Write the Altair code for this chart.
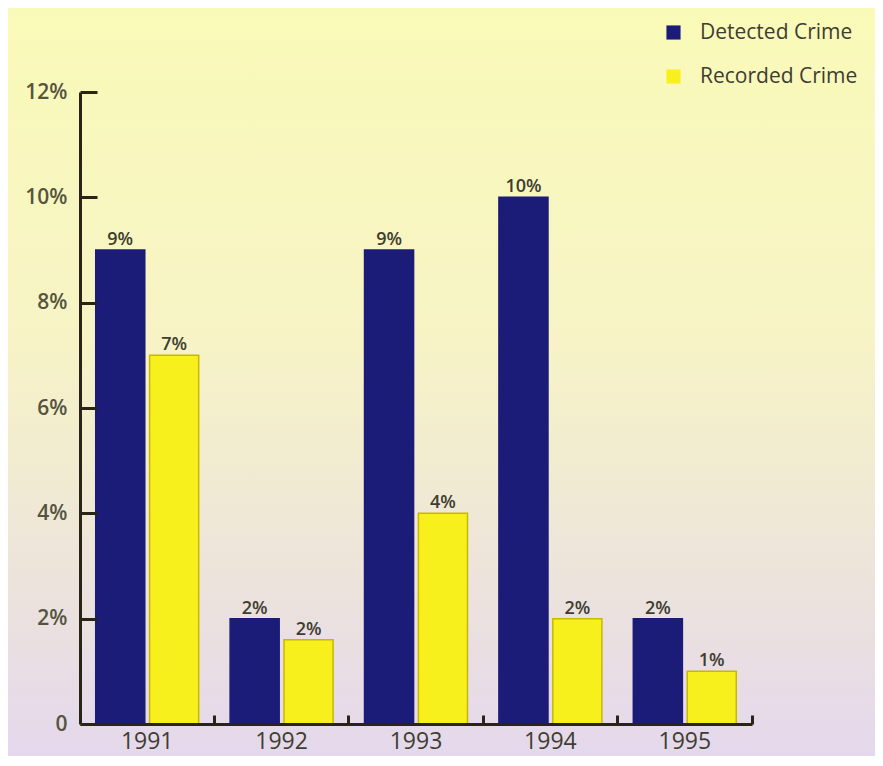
import altair as alt
import pandas as pd

years = ["1991", "1992", "1993", "1994", "1995"]
detected = [9, 2, 9, 10, 2]
recorded = [7, 1.6, 4, 2, 1]
detected_labels = ["9%", "2%", "9%", "10%", "2%"]
recorded_labels = ["7%", "2%", "4%", "2%", "1%"]
series_names = ["Detected Crime", "Recorded Crime"]
series_colors = ["#1b1b78", "#f8f01c"]
series_strokes = ["#1b1b78", "#c9b800"]
y_ticks = [0, 2, 4, 6, 8, 10, 12]

rows = []
for i, y in enumerate(years):
    rows.append({"year": y, "series": series_names[0], "value": detected[i], "label": detected_labels[i]})
    rows.append({"year": y, "series": series_names[1], "value": recorded[i], "label": recorded_labels[i]})
df = pd.DataFrame(rows)

W, H = 672, 632
PL, PT, PR, PB = 72, 84, 123, 32
FONT = "Open Sans"
TXT = "#3e3d30"
P_IN, P_OUT = 0.234, 0.117
# tick between groups: band start + (bandwidth + half inner padding)
BAND_POS = (1 - P_IN + P_IN / 2) / (1 - P_IN)

x_scale = alt.Scale(domain=years, paddingInner=P_IN, paddingOuter=P_OUT)
xo_scale = alt.Scale(domain=series_names, paddingInner=0.09)
y_scale = alt.Scale(domain=[0, 12], nice=False)
color_scale = alt.Scale(domain=series_names, range=series_colors)
stroke_scale = alt.Scale(domain=series_names, range=series_strokes)

bg = alt.Chart(pd.DataFrame({"a": [0]})).mark_rect(
    color=alt.Gradient(
        gradient="linear",
        stops=[
            alt.GradientStop(color="#fafab8", offset=0),
            alt.GradientStop(color="#f7f3c6", offset=0.45),
            alt.GradientStop(color="#e4d8ec", offset=1),
        ],
        x1=0, x2=0, y1=0, y2=1,
    )
).encode(
    x=alt.value(-PL), x2=alt.value(W + PR),
    y=alt.value(-PT), y2=alt.value(H + PB),
)

bars = alt.Chart(df).mark_bar(strokeWidth=1.5).encode(
    x=alt.X("year:N", scale=x_scale, sort=years, title=None,
            axis=alt.Axis(orient="bottom", labelAngle=0, ticks=False, domain=True,
                          domainColor="#2a2418", domainWidth=3, zindex=1,
                          labelFont=FONT, labelFontSize=23, labelColor=TXT,
                          labelFontWeight=500,
                          labelBaseline="alphabetic", labelPadding=24, grid=False)),
    xOffset=alt.XOffset("series:N", scale=xo_scale, sort=series_names),
    y=alt.Y("value:Q", scale=y_scale, title=None,
            axis=alt.Axis(orient="left", values=y_ticks, ticks=False, domain=True,
                          domainColor="#2a2418", domainWidth=3, zindex=1,
                          labelExpr="datum.value == 0 ? '0' : datum.value + '%'",
                          labelFont=FONT, labelFontSize=21, labelFontWeight=600,
                          labelColor="#55543f", labelPadding=13, grid=False)),
    color=alt.Color("series:N", scale=color_scale, sort=series_names,
                    legend=alt.Legend(title=None, orient="none", legendX=583, legendY=-70,
                                      symbolType="square", symbolSize=200,
                                      symbolStrokeWidth=0, labelFont=FONT,
                                      labelFontSize=21, labelColor=TXT,
                                      labelFontWeight=500,
                                      rowPadding=22, labelOffset=16)),
    stroke=alt.Stroke("series:N", scale=stroke_scale, legend=None),
)

labels = alt.Chart(df).mark_text(
    baseline="bottom", dy=-1, font=FONT, fontSize=18, fontWeight=600, color=TXT
).encode(
    x=alt.X("year:N", scale=x_scale, sort=years, title=None,
            axis=alt.Axis(orient="top", offset=-H, labels=False, domain=False,
                          ticks=True, bandPosition=BAND_POS, tickSize=9, tickWidth=3,
                          tickColor="#2a2418", grid=False, zindex=2)),
    xOffset=alt.XOffset("series:N", scale=xo_scale, sort=series_names),
    y=alt.Y("value:Q", scale=y_scale, title=None,
            axis=alt.Axis(orient="right", offset=-W, values=y_ticks, labels=False,
                          domain=False, ticks=True, tickSize=17, tickWidth=3,
                          tickColor="#2a2418", grid=False, zindex=1)),
    text="label:N",
)

chart = alt.layer(bg, bars, labels).resolve_axis(
    x="independent", y="independent"
).properties(
    width=W, height=H,
    autosize=alt.AutoSizeParams(type="none"),
    padding={"left": PL, "top": PT, "right": PR, "bottom": PB},
).configure_view(stroke=None).configure(background="#f2edd3")

chart.save("out.html", embed_options={"renderer": "svg", "actions": False})
